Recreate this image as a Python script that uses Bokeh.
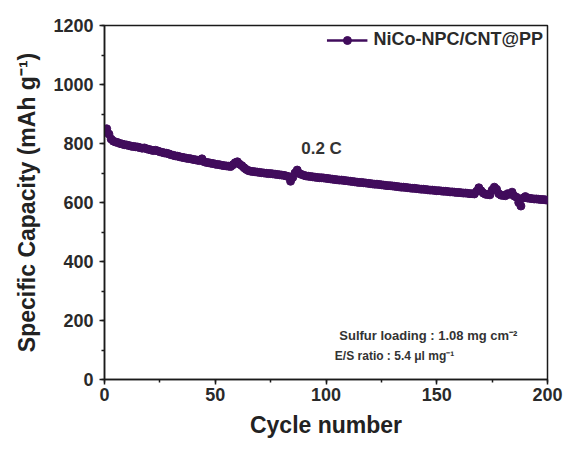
from bokeh.plotting import figure
from bokeh.models import Range1d, SingleIntervalTicker, Legend, LegendItem, ColumnDataSource, Label
from bokeh.embed import file_html
from bokeh.resources import INLINE

# ---- data ----
cycles = list(range(1, 201))
capacity = [
    850, 832, 815, 808, 805, 803, 800, 798, 796, 795,
    793, 791, 790, 789, 788, 786, 784, 785, 782, 780,
    778, 776, 777, 775, 772, 770, 768, 767, 765, 762,
    760, 758, 757, 755, 753, 752, 750, 749, 748, 746,
    745, 743, 742, 748, 738, 736, 735, 733, 732, 730,
    729, 728, 726, 725, 724, 723, 722, 728, 735, 738,
    730, 725, 718, 712, 708, 706, 705, 704, 703, 702,
    701, 700, 699, 698, 698, 697, 696, 695, 694, 693,
    692, 690, 688, 672, 685, 700, 710, 698, 695, 692,
    690, 689, 688, 687, 686, 685, 684, 684, 683, 682,
    681, 680, 679, 678, 677, 676, 676, 675, 674, 673,
    672, 671, 670, 669, 668, 668, 667, 666, 665, 664,
    663, 662, 662, 661, 660, 659, 658, 657, 657, 656,
    655, 654, 653, 652, 652, 651, 650, 649, 648, 648,
    647, 646, 645, 645, 644, 643, 642, 642, 641, 640,
    640, 639, 638, 638, 637, 636, 636, 635, 634, 634,
    633, 632, 632, 631, 630, 630, 629, 638, 650, 640,
    632, 628, 627, 626, 642, 652, 645, 630, 625, 624,
    623, 630, 628, 635, 622, 618, 600, 588, 615, 620,
    615, 614, 613, 612, 612, 611, 610, 610, 609, 608,
]
series_name = "NiCo-NPC/CNT@PP"
rate_label = "0.2 C"
note_1 = "Sulfur loading : 1.08  mg cm\u207b\u00b2"
note_2 = "E/S ratio : 5.4 \u03bcl mg\u207b\u00b9"
x_title = "Cycle number"
y_title = "Specific Capacity (mAh g\u207b\u00b9)"

color = "#410c5c"
font = "Liberation Sans"

src = ColumnDataSource(dict(x=cycles, y=capacity))

p = figure(width=566, height=450, output_backend="svg", toolbar_location=None,
           x_range=Range1d(0, 200), y_range=Range1d(0, 1200),
           min_border_left=104, min_border_right=19, min_border_top=25, min_border_bottom=71)
p.grid.visible = False
p.outline_line_color = "#1a1a1a"
p.outline_line_width = 1.5
p.background_fill_color = "white"
p.border_fill_color = "white"

r_line = p.line("x", "y", source=src, line_color=color, line_width=2.5)
r_pts = p.scatter("x", "y", source=src, marker="circle", size=8, fill_color=color, line_color=color)

p.xaxis.ticker = SingleIntervalTicker(interval=50, num_minor_ticks=2)
p.yaxis.ticker = SingleIntervalTicker(interval=200, num_minor_ticks=2)
for ax in (p.xaxis[0], p.yaxis[0]):
    ax.axis_line_color = "#1a1a1a"
    ax.axis_line_width = 1.5
    ax.major_tick_line_color = "#1a1a1a"
    ax.major_tick_line_width = 1.5
    ax.minor_tick_line_color = "#1a1a1a"
    ax.minor_tick_line_width = 1.5
    ax.major_tick_out = 5
    ax.major_tick_in = 0
    ax.minor_tick_out = 3
    ax.minor_tick_in = 0
    ax.major_label_text_font = font
    ax.major_label_text_font_style = "bold"
    ax.major_label_text_font_size = "18px"
    ax.major_label_text_color = "#2a2a2a"
    ax.axis_label_text_font = font
    ax.axis_label_text_font_style = "bold"
    ax.axis_label_text_font_size = "23px"
    ax.axis_label_text_color = "#222222"

p.xaxis.axis_label = x_title
p.yaxis.axis_label = y_title
p.xaxis.major_label_standoff = 3
p.yaxis.major_label_standoff = 6
p.xaxis.axis_label_standoff = 8
p.yaxis.axis_label_standoff = 10

legend = Legend(items=[LegendItem(label=series_name, renderers=[r_line, r_pts])],
                location="top_right", border_line_color=None, background_fill_alpha=0,
                label_text_font=font, label_text_font_style="bold", label_text_font_size="18px",
                label_text_color="#2a2a2a", glyph_width=41, glyph_height=20,
                label_standoff=6, padding=3, margin=4)
p.add_layout(legend)

p.add_layout(Label(x=98, y=783, text=rate_label,
                   text_font=font, text_font_style="bold", text_font_size="17px",
                   text_color="#333333", text_align="center", text_baseline="middle"))
p.add_layout(Label(x=106, y=149, text=note_1,
                   text_font=font, text_font_style="bold", text_font_size="13px",
                   text_color="#333333", text_align="left", text_baseline="middle"))
p.add_layout(Label(x=104, y=81, text=note_2,
                   text_font=font, text_font_style="bold", text_font_size="12px",
                   text_color="#333333", text_align="left", text_baseline="middle"))

open("out.html", "w").write(file_html(p, INLINE))
